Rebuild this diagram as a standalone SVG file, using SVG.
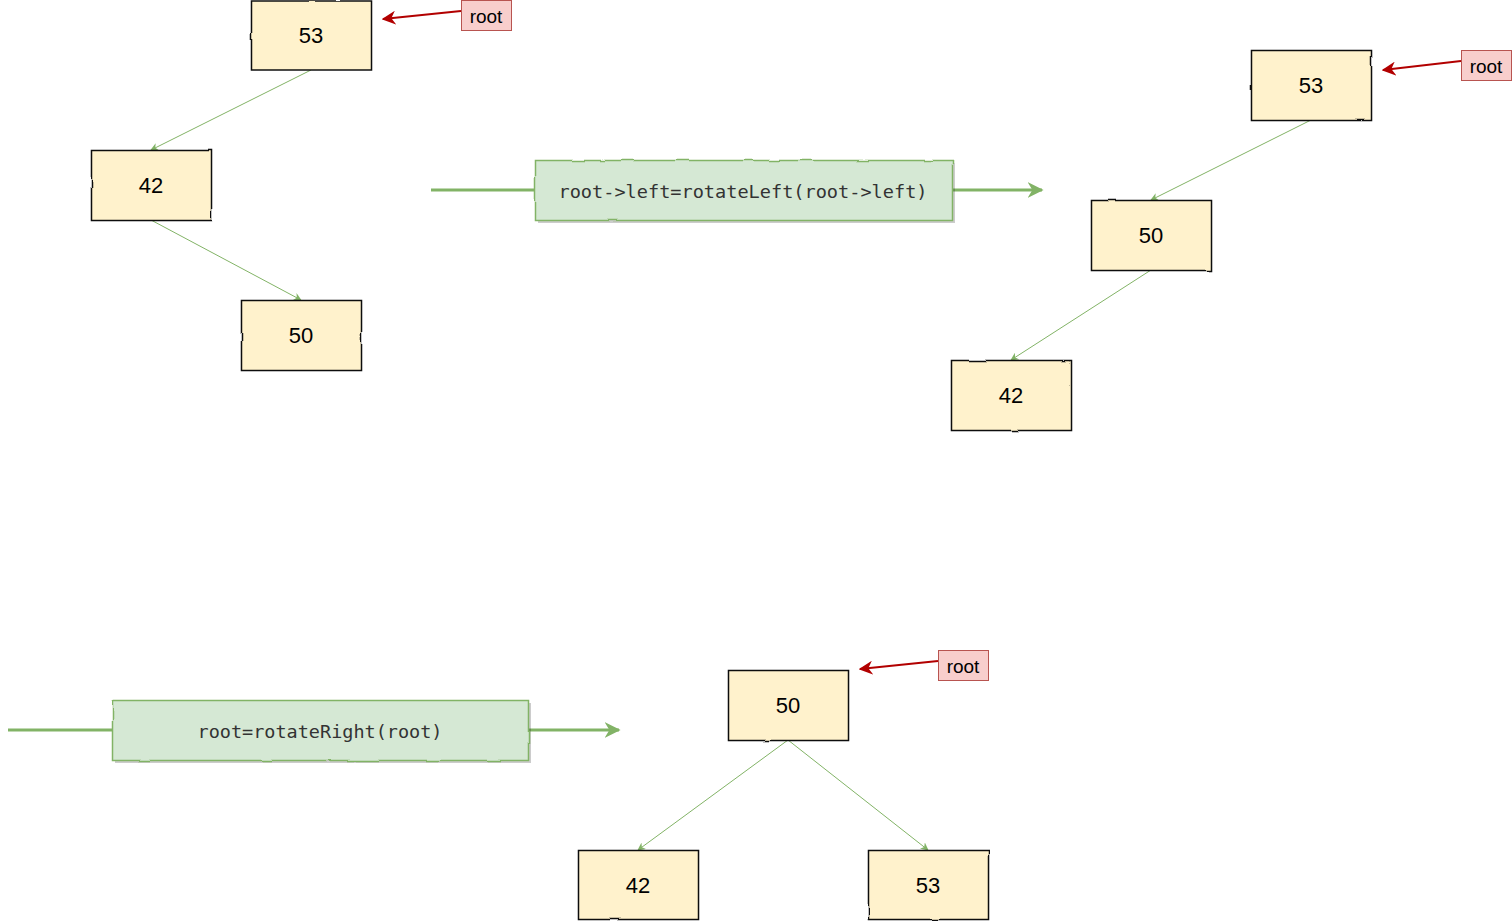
<svg xmlns="http://www.w3.org/2000/svg" width="1512" height="921" viewBox="0 0 1512 921">
<style>
.node rect{fill:#fff2cc;stroke:#111;stroke-width:1.5}
.node text{font-family:"Liberation Sans",Arial,sans-serif;font-size:22px;fill:#000;text-anchor:middle;dominant-baseline:central}
.lbl rect{fill:#f8cecc;stroke:#b85450;stroke-width:1}
.lbl text{font-family:"Liberation Sans",Arial,sans-serif;font-size:19px;fill:#000;text-anchor:middle;dominant-baseline:central}
.op rect{fill:#d5e8d4;stroke:#82b366;stroke-width:1.5}
.op .sh{fill:#000;opacity:0.2;stroke:none}
.op text{font-family:"DejaVu Sans Mono","Liberation Mono",monospace;font-size:18px;fill:#333;text-anchor:middle;dominant-baseline:central}
.edge{stroke:#82b366;stroke-width:1;fill:none}
.flow{stroke:#82b366;stroke-width:3;fill:none}
.ptr{stroke:#b20000;stroke-width:2;fill:none}
</style>
<defs>
<filter id="rough" x="-5%" y="-5%" width="110%" height="110%">
<feTurbulence type="fractalNoise" baseFrequency="0.04" numOctaves="1" seed="3"/>
<feDisplacementMap in="SourceGraphic" scale="2.5" xChannelSelector="R" yChannelSelector="G"/>
</filter>
<marker id="ge" viewBox="0 0 10 10" refX="9" refY="5" markerWidth="8" markerHeight="8" orient="auto" markerUnits="userSpaceOnUse"><path d="M0,0 L10,5 L0,10 L3,5 Z" fill="#82b366"/></marker>
<marker id="gf" viewBox="0 0 10 10" refX="9" refY="5" markerWidth="16" markerHeight="16" orient="auto" markerUnits="userSpaceOnUse"><path d="M0,0 L10,5 L0,10 L3,5 Z" fill="#82b366"/></marker>
<marker id="rp" viewBox="0 0 10 10" refX="9" refY="5" markerWidth="14" markerHeight="14" orient="auto" markerUnits="userSpaceOnUse"><path d="M0,0 L10,5 L0,10 L3,5 Z" fill="#b20000"/></marker>
</defs>
<g id="connectors">
<line class="edge" x1="311" y1="70" x2="151" y2="150" marker-end="url(#ge)"/>
<line class="edge" x1="151" y1="220" x2="301" y2="300" marker-end="url(#ge)"/>
<line class="edge" x1="1311" y1="120" x2="1151" y2="200" marker-end="url(#ge)"/>
<line class="edge" x1="1151" y1="270" x2="1011" y2="360" marker-end="url(#ge)"/>
<line class="edge" x1="788" y1="740" x2="638" y2="850" marker-end="url(#ge)"/>
<line class="edge" x1="788" y1="740" x2="928" y2="850" marker-end="url(#ge)"/>
<line class="flow" x1="431" y1="190" x2="535" y2="190"/>
<line class="flow" x1="952" y1="190" x2="1042" y2="190" marker-end="url(#gf)"/>
<line class="flow" x1="8" y1="730" x2="112" y2="730"/>
<line class="flow" x1="528" y1="730" x2="619" y2="730" marker-end="url(#gf)"/>
<line class="ptr" x1="461" y1="11" x2="383" y2="19" marker-end="url(#rp)"/>
<line class="ptr" x1="1461" y1="61" x2="1383" y2="70" marker-end="url(#rp)"/>
<line class="ptr" x1="938" y1="661" x2="860" y2="669" marker-end="url(#rp)"/>
</g>
<g id="a53" class="node"><rect x="251.5" y="1" width="120" height="69" filter="url(#rough)"/><text x="311" y="35">53</text></g>
<g id="a42" class="node"><rect x="91.5" y="150.5" width="120" height="70" filter="url(#rough)"/><text x="151" y="185">42</text></g>
<g id="a50" class="node"><rect x="241.5" y="300.5" width="120" height="70" filter="url(#rough)"/><text x="301" y="335">50</text></g>
<g id="b53" class="node"><rect x="1251.5" y="50.5" width="120" height="70" filter="url(#rough)"/><text x="1311" y="85">53</text></g>
<g id="b50" class="node"><rect x="1091.5" y="200.5" width="120" height="70" filter="url(#rough)"/><text x="1151" y="235">50</text></g>
<g id="b42" class="node"><rect x="951.5" y="360.5" width="120" height="70" filter="url(#rough)"/><text x="1011" y="395">42</text></g>
<g id="c50" class="node"><rect x="728.5" y="670.5" width="120" height="70" filter="url(#rough)"/><text x="788" y="705">50</text></g>
<g id="c42" class="node"><rect x="578.5" y="850.5" width="120" height="69" filter="url(#rough)"/><text x="638" y="885">42</text></g>
<g id="c53" class="node"><rect x="868.5" y="850.5" width="120" height="69" filter="url(#rough)"/><text x="928" y="885">53</text></g>
<g id="root1" class="lbl"><rect x="461.5" y="0.5" width="50" height="30"/><text x="486" y="16">root</text></g>
<g id="root2" class="lbl"><rect x="1461.5" y="50.5" width="50" height="30"/><text x="1486" y="66">root</text></g>
<g id="root3" class="lbl"><rect x="938.5" y="650.5" width="50" height="30"/><text x="963" y="666">root</text></g>
<g id="op1" class="op"><rect class="sh" x="538" y="163" width="417" height="60"/><rect x="535.5" y="160.5" width="417" height="60" filter="url(#rough)"/><text x="743" y="191" textLength="369" lengthAdjust="spacingAndGlyphs">root-&gt;left=rotateLeft(root-&gt;left)</text></g>
<g id="op2" class="op"><rect class="sh" x="115" y="703" width="416" height="60"/><rect x="112.5" y="700.5" width="416" height="60" filter="url(#rough)"/><text x="320" y="731" textLength="245" lengthAdjust="spacingAndGlyphs">root=rotateRight(root)</text></g>
</svg>
